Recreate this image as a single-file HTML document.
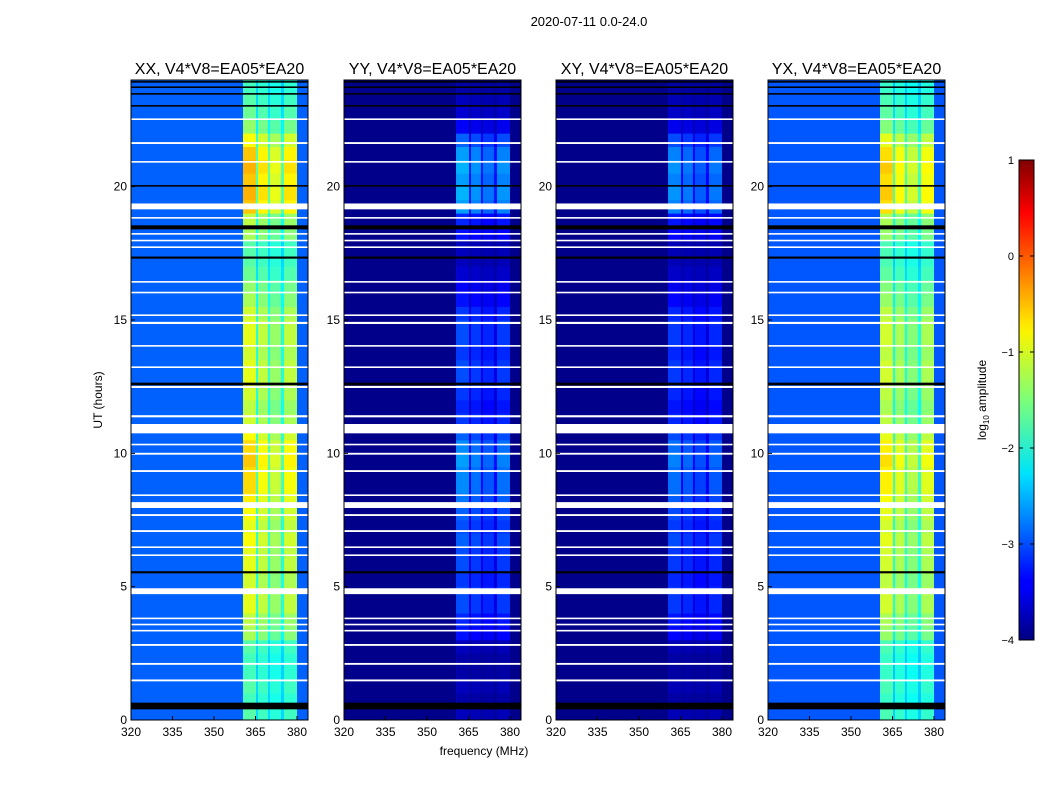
<!DOCTYPE html>
<html><head><meta charset="utf-8"><style>
body{margin:0;background:#fff;width:1050px;height:800px;overflow:hidden;font-family:"Liberation Sans",sans-serif}
</style></head><body>
<svg id="fig" width="1050" height="800" xmlns="http://www.w3.org/2000/svg" font-family="Liberation Sans, sans-serif">
<rect width="1050" height="800" fill="#fff"/>
<text x="589" y="26" font-size="13" text-anchor="middle">2020-07-11 0.0-24.0</text>
<text x="484" y="755" font-size="12" text-anchor="middle">frequency (MHz)</text>
<text transform="translate(102,400) rotate(-90)" font-size="12" text-anchor="middle">UT (hours)</text>
<defs><linearGradient id="jetg" x1="0" y1="1" x2="0" y2="0">
<stop offset="0" stop-color="#00007f"/><stop offset="0.11" stop-color="#0000ff"/><stop offset="0.125" stop-color="#0000ff"/><stop offset="0.34" stop-color="#00dcff"/><stop offset="0.35" stop-color="#00e4f8"/><stop offset="0.5" stop-color="#7cff79"/><stop offset="0.64" stop-color="#f8f500"/><stop offset="0.66" stop-color="#ffe600"/><stop offset="0.89" stop-color="#ff0000"/><stop offset="1" stop-color="#800000"/></linearGradient></defs>
<rect x="1019" y="160" width="15" height="480" fill="url(#jetg)" stroke="#000"/>
<text transform="translate(986,400) rotate(-90)" font-size="12" text-anchor="middle">log<tspan font-size="8" dy="3">10</tspan><tspan dy="-3"> amplitude</tspan></text>
<g id="cbticks"></g>
<g id="panels"></g>
</svg>
<script>
const panelTitles=["XX, V4*V8=EA05*EA20","YY, V4*V8=EA05*EA20","XY, V4*V8=EA05*EA20","YX, V4*V8=EA05*EA20"];
const panelLeft=[131,344,556,768];
const bgLevel=[-2.9,-3.95,-3.95,-2.95];
const bandScale=[1.0,1.0,0.9,0.95];
const freqEdges=[320,360.5,365.2,365.9,369.5,370.2,374.2,375.3,380,384];
const freqWeight=[0,1.0,0.5,0.9,0.5,0.8,0.5,0.9,0];
const activity=[-1.7,-1.8,-1.7,-1.8,-1.8,-1.7,-1.3,-1.2,-1.0,-1.0,-1.1,-1.0,-1.0,-0.9,-1.0,-0.9,-0.8,-0.7,-0.7,-0.6,-0.7,-0.9,-1.1,-1.2,-1.1,-1.0,-1.0,-1.1,-1.0,-1.0,-1.1,-1.3,-1.4,-1.6,-1.7,-1.7,-1.3,-1.2,-0.6,-0.5,-0.6,-0.5,-0.6,-0.9,-1.4,-1.6,-1.7,-1.8];
const whiteGaps=[[1.45,0.07],[2.07,0.07],[2.78,0.07],[3.32,0.06],[3.55,0.06],[3.78,0.06],[4.72,0.22],[6.15,0.06],[6.45,0.06],[7.05,0.07],[7.65,0.07],[7.95,0.22],[8.4,0.06],[9.3,0.07],[9.95,0.07],[10.3,0.06],[10.75,0.35],[11.35,0.08],[12.45,0.08],[13.2,0.06],[14.0,0.06],[14.85,0.08],[15.15,0.06],[16.0,0.06],[16.4,0.06],[17.7,0.06],[17.95,0.06],[18.2,0.06],[18.8,0.06],[19.15,0.22],[20.9,0.06],[21.6,0.07],[22.5,0.06]];
const blackLines=[[0.4,0.25],[5.5,0.08],[12.55,0.1],[17.3,0.08],[18.4,0.15],[20.0,0.06],[23.0,0.06],[23.45,0.06],[23.7,0.06],[23.9,0.06]];
const xTicks=[320,335,350,365,380];
const yTicks=[0,5,10,15,20];
const cbTicks=[1,0,-1,-2,-3,-4];
const cbLabels=["1","0","\u22121","\u22122","\u22123","\u22124"];
const NS="http://www.w3.org/2000/svg";
const PW=177,TOP=80,BOT=720;
function xs(f,p){return panelLeft[p]+(f-320)/15*41.5;}
function ys(h){return BOT-(h/24)*(BOT-TOP);}
function jet(v){let t=Math.max(0,Math.min(1,(v+4)/5));
 const c=x=>Math.round(255*Math.max(0,Math.min(1,x)));
 return `rgb(${c(1.5-Math.abs(4*t-3))},${c(1.5-Math.abs(4*t-2))},${c(1.5-Math.abs(4*t-1))})`;}
function mk(tag,a,parent){const e=document.createElementNS(NS,tag);for(const k in a)e.setAttribute(k,a[k]);parent.appendChild(e);return e;}
const root=document.getElementById('panels');
for(let p=0;p<4;p++){
 const g=mk('g',{},root);
 
 
 for(let i=0;i<activity.length;i++){
  const h0=i*0.5,h1=h0+0.5;
  for(let j=0;j<freqWeight.length;j++){
   let v;
   if(freqWeight[j]===0)v=bgLevel[p];
   else if(p===0||p===3)v=bgLevel[p]+(activity[i]-bgLevel[p])*freqWeight[j]*bandScale[p];
   else v=-4+(activity[i]+2)*bandScale[p]*freqWeight[j];
   if(v<bgLevel[p])v=bgLevel[p];
   const r=mk('rect',{x:xs(freqEdges[j],p),y:ys(h1),width:xs(freqEdges[j+1],p)-xs(freqEdges[j],p)+0.3,height:ys(h0)-ys(h1)+0.3,fill:jet(v)},g);
   
   
  }
 }
 for(const [h,w] of whiteGaps){
  const r=mk('rect',{x:panelLeft[p],y:ys(h+w),width:PW,height:Math.max(1.5,ys(h)-ys(h+w)),fill:'#fff'},g);
  
  
 }
 for(const [h,w] of blackLines){
  const r=mk('rect',{x:panelLeft[p],y:ys(h+w),width:PW,height:Math.max(1.5,ys(h)-ys(h+w)),fill:'#000'},g);
  
  
 }
 const fr=mk('rect',{x:panelLeft[p],y:TOP,width:PW,height:BOT-TOP,fill:'none',stroke:'#000','stroke-width':1},g);
 
 
 const t=mk('text',{x:panelLeft[p]+PW/2,y:74,'font-size':16,'text-anchor':'middle'},g);
 t.textContent=panelTitles[p];
 
 
 for(const f of xTicks){
  const x=xs(f,p);
  mk('line',{x1:x,x2:x,y1:BOT,y2:BOT-4,stroke:'#000'},g);
  const l=mk('text',{x:x,y:BOT+16,'font-size':12,'text-anchor':'middle'},g);
  l.textContent=f;
  
  
 }
 for(const h of yTicks){
  const y=ys(h);
  mk('line',{x1:panelLeft[p],x2:panelLeft[p]+4,y1:y,y2:y,stroke:'#000'},g);
  const l=mk('text',{x:panelLeft[p]-4,y:y+4,'font-size':12,'text-anchor':'end'},g);
  l.textContent=h;
  
  
 }
}
const cb=document.getElementById('cbticks');
cbTicks.forEach((v,i)=>{
 const y=160+(1-v)/5*480;
 mk('line',{x1:1019,x2:1023,y1:y,y2:y,stroke:'#000'},cb);
 mk('line',{x1:1030,x2:1034,y1:y,y2:y,stroke:'#000'},cb);
 const l=mk('text',{x:1014,y:y+4,'font-size':11,'text-anchor':'end'},cb);
 l.textContent=cbLabels[i];
 
 
});
</script>
</body></html>
